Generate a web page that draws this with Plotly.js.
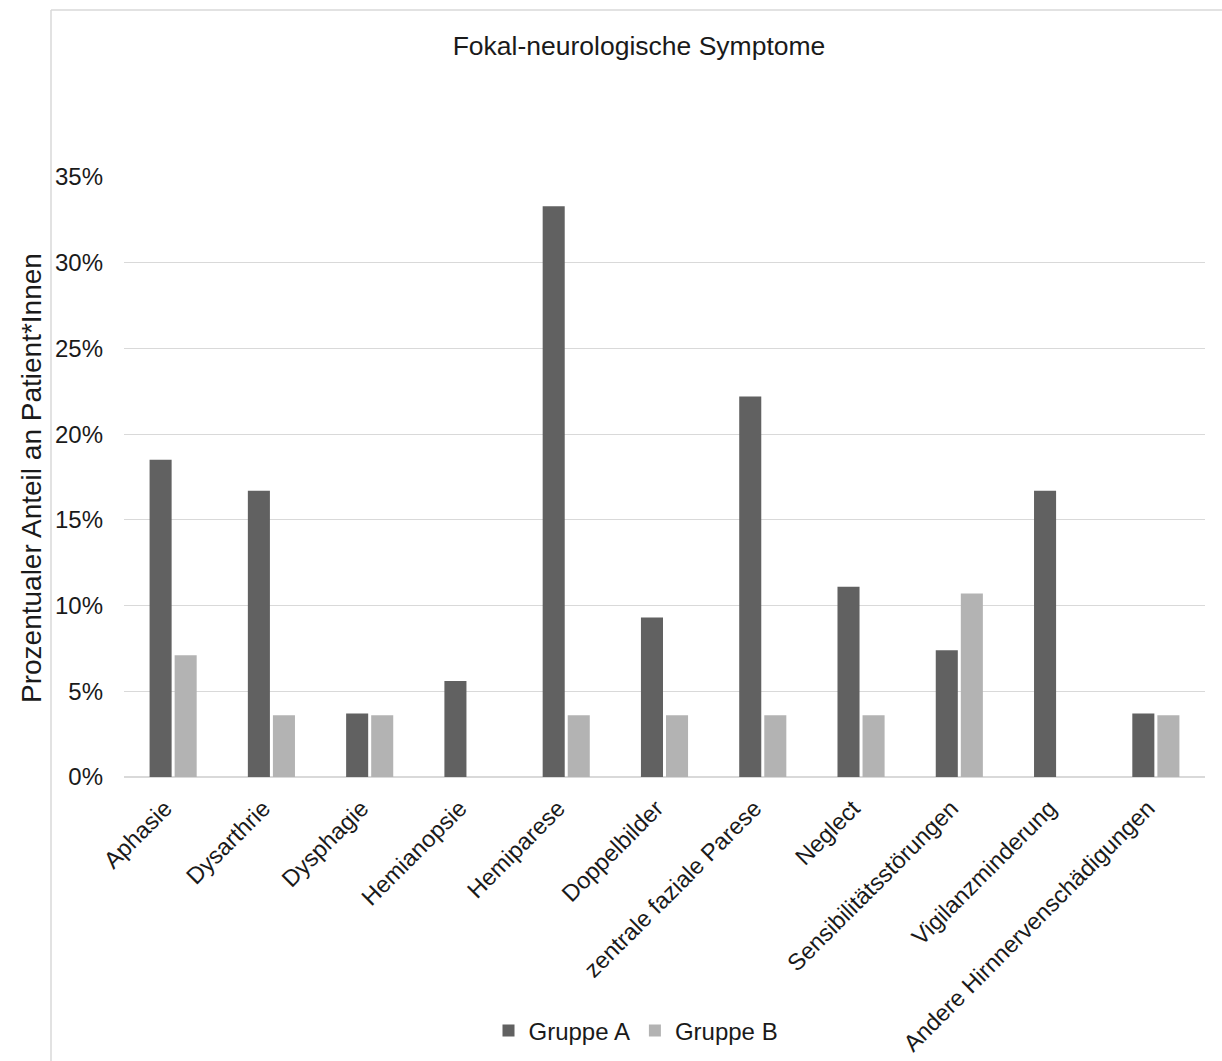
<!DOCTYPE html>
<html>
<head>
<meta charset="utf-8">
<script src="https://cdn.plot.ly/plotly-3.0.1.min.js"></script>
<style>html,body{margin:0;padding:0;background:#fff;}#chart{width:1222px;height:1061px;}</style>
</head>
<body>
<div id="chart"></div>
<script>
const categories = ["Aphasie","Dysarthrie","Dysphagie","Hemianopsie","Hemiparese","Doppelbilder","zentrale faziale Parese","Neglect","Sensibilitätsstörungen","Vigilanzminderung","Andere Hirnnervenschädigungen"];
const gruppeA = [18.5, 16.7, 3.7, 5.6, 33.3, 9.3, 22.2, 11.1, 7.4, 16.7, 3.7];
const gruppeB = [7.1, 3.6, 3.6, 0, 3.6, 3.6, 3.6, 3.6, 10.7, 0, 3.6];
const yTicks = [0, 5, 10, 15, 20, 25, 30, 35];
const yTickText = ["0%","5%","10%","15%","20%","25%","30%","35%"];

const FONT = "Liberation Sans, Arial, sans-serif";
const L = 124, R = 17, T = 177, B = 284;
const W = 1222, H = 1061;
const pw = W - L - R, ph = H - T - B;
const px = x => (x - L) / pw;
const py = y => (H - B - y) / ph;

const traces = [
  {type:"bar", name:"Gruppe A", x:categories, y:gruppeA, marker:{color:"#616161"}, hoverinfo:"y"},
  {type:"bar", name:"Gruppe B", x:categories, y:gruppeB, marker:{color:"#b3b3b3"}, hoverinfo:"y"}
];

const layout = {
  width: W, height: H,
  margin: {l:L, r:R, t:T, b:B, autoexpand:false},
  paper_bgcolor: "#fff", plot_bgcolor: "#fff",
  font: {family: FONT, size: 24, color: "#1a1a1a"},
  barmode: "group", bargap: 0.49, bargroupgap: 0.12,
  title: {text: "Fokal-neurologische Symptome", font:{family:FONT, size:26.5, color:"#1a1a1a"},
          xref:"paper", x: px(639), xanchor:"center", yref:"container", y: 1 - 46/H, yanchor:"middle"},
  xaxis: {type:"category", tickangle:-45, showgrid:false, zeroline:false, showline:false, ticks:"",
          ticklabelstandoff:12, ticklabelshift:-8,
          tickfont:{family:FONT, size:23.5, color:"#1a1a1a"}, automargin:false, fixedrange:true},
  yaxis: {range:[0,35], tickvals:yTicks, ticktext:yTickText, showgrid:true, gridcolor:"#d9d9d9", gridwidth:1,
          zeroline:true, zerolinecolor:"#d9d9d9", zerolinewidth:1.5, showline:false, ticks:"",
          ticklabelstandoff:20, tickfont:{family:FONT, size:24, color:"#1a1a1a"}, automargin:false, fixedrange:true},
  showlegend: true,
  legend: {orientation:"h", xref:"paper", yref:"paper", x: px(636), xanchor:"center", y: py(1031), yanchor:"middle",
           font:{family:FONT, size:24, color:"#1a1a1a"}, itemwidth:30, traceorder:"normal"},
  annotations: [
    {text:"Prozentualer Anteil an Patient*Innen", textangle:-90, xref:"paper", yref:"paper",
     x: px(31), y: py(478), xanchor:"center", yanchor:"middle", showarrow:false,
     font:{family:FONT, size:28, color:"#1a1a1a"}}
  ],
  shapes: [
    {type:"line", xref:"paper", yref:"paper", x0:px(51), x1:px(51), y0:py(10), y1:py(1070), line:{color:"#d9d9d9", width:1.5}},
    {type:"line", xref:"paper", yref:"paper", x0:px(51), x1:px(1230), y0:py(10), y1:py(10), line:{color:"#d9d9d9", width:1.5}}
  ]
};

Plotly.newPlot("chart", traces, layout, {displayModeBar:false, responsive:false});
</script>
</body>
</html>
